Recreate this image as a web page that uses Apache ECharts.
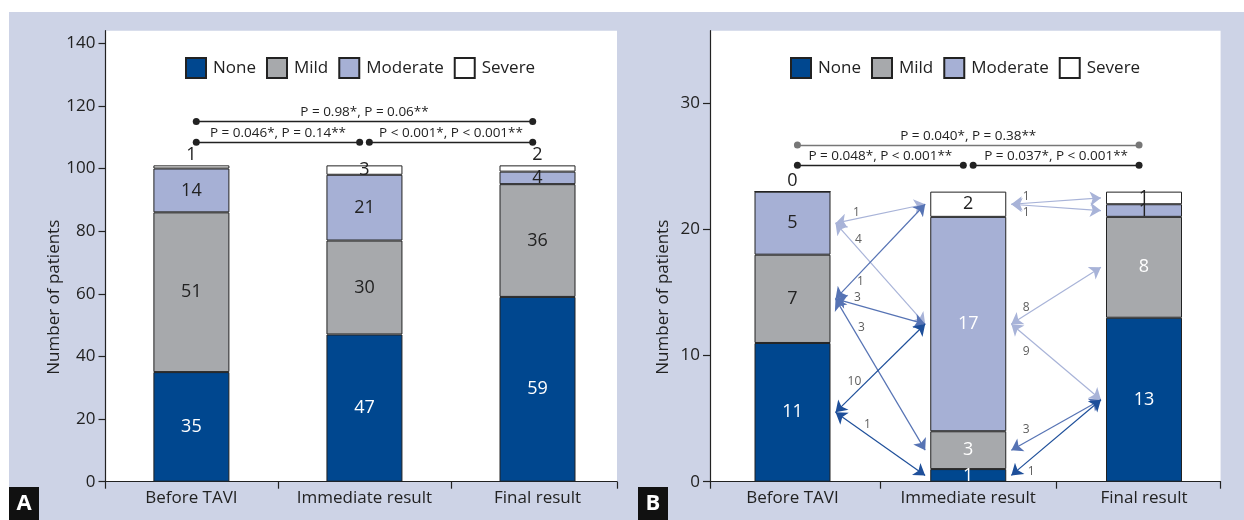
<!DOCTYPE html>
<html><head><meta charset="utf-8">
<script src="https://cdn.jsdelivr.net/npm/echarts@6/dist/echarts.min.js"></script>
<style>
html,body{margin:0;padding:0;background:#fff;}
#bg{position:absolute;left:9px;top:12px;width:1235px;height:508px;background:#CDD3E6;}
#chart{position:absolute;left:0;top:0;width:1244px;height:520px;}
</style></head><body>
<div id="bg"></div><div id="chart"></div>
<script>
// ---------- DATA ----------
const stages = ['Before TAVI', 'Immediate result', 'Final result'];
const severities = ['None', 'Mild', 'Moderate', 'Severe'];
const yTicksA = [0, 20, 40, 60, 80, 100, 120, 140];
const yTicksB = [0, 10, 20, 30];
// Panel A
const noneA = [35, 47, 59];
const mildA = [51, 30, 36];
const moderateA = [14, 21, 4];
const severeA = [1, 3, 2];
// Panel B
const noneB = [11, 1, 13];
const mildB = [7, 3, 8];
const moderateB = [5, 17, 1];
const severeB = [0, 2, 1];
// Panel B transitions: [fromStage, fromSeverity, toStage, toSeverity, count]
const transitionsB = [
  [0, 'Moderate', 1, 'Severe', 1],
  [0, 'Moderate', 1, 'Moderate', 4],
  [0, 'Mild', 1, 'Severe', 1],
  [0, 'Mild', 1, 'Moderate', 3],
  [0, 'Mild', 1, 'Mild', 3],
  [0, 'None', 1, 'Moderate', 10],
  [0, 'None', 1, 'None', 1],
  [1, 'Severe', 2, 'Severe', 1],
  [1, 'Severe', 2, 'Moderate', 1],
  [1, 'Moderate', 2, 'Mild', 8],
  [1, 'Moderate', 2, 'None', 9],
  [1, 'Mild', 2, 'None', 3],
  [1, 'None', 2, 'None', 1]
];
// P-value comparisons: [fromStage, toStage, level, text]
const pValuesA = [
  [0, 1, 0, 'P = 0.046*, P = 0.14**'],
  [1, 2, 0, 'P < 0.001*, P < 0.001**'],
  [0, 2, 1, 'P = 0.98*, P = 0.06**']
];
const pValuesB = [
  [0, 1, 0, 'P = 0.048*, P < 0.001**'],
  [1, 2, 0, 'P = 0.037*, P < 0.001**'],
  [0, 2, 1, 'P = 0.040*, P = 0.38**']
];
const bracketLevelsA = [108.4, 115];
const bracketLevelsB = [25.1, 26.7];

// ---------- STYLE ----------
const FONT = 'Open Sans';
const TXT = '#222';
const colors = { None: '#00478F', Mild: '#A7A9AC', Moderate: '#A6B0D5', Severe: '#FFFFFF' };
const arrowColors = { None: '#1E4F9A', Mild: '#5673B4', Moderate: '#A8B3D8', Severe: '#A8B3D8' };
const labelColorA = { None: ['#fff','#fff','#fff'], Mild: [TXT,TXT,TXT], Moderate: [TXT,TXT,TXT], Severe: [TXT,TXT,TXT] };
const labelColorB = { None: ['#fff','#fff','#fff'], Mild: [TXT,'#fff','#fff'], Moderate: [TXT,'#fff',TXT], Severe: [TXT,TXT,TXT] };
const severePosA = ['top', 'inside', 'top'];
const severePosB = ['top', 'inside', 'inside'];
// pixel offsets of the count labels from the point 20% along each arrow
const arrowLabelOffset = [[3,-7],[5,-4],[7,2],[4,-6],[8,-2],[1,-13],[14,0],
                          [-3,-6],[-3,7],[-3,-5],[-3,12],[-3,-11],[2,11]];
const arrowInset = 0.245;     // stage units from bar centre to arrow end
const bracketInset = 0.028;
const xRangeA = [0.5036, 3.459];
const xRangeB = [0.5306, 3.436];
const maxA = 144, maxB = 35.76;
const G = { top: 30.7, height: 451 };
// visible axis grids and bar (category band) grids
const axisGridA = { left: 105.5, width: 511.5 };
const axisGridB = { left: 710, width: 510.6 };
const barGridA = { left: 104.875, width: 519.15 };
const barGridB = { left: 704.625, width: 527.25 };

const dataA = { None: noneA, Mild: mildA, Moderate: moderateA, Severe: severeA };
const dataB = { None: noneB, Mild: mildB, Moderate: moderateB, Severe: severeB };

function xAxis(idx, range) {
  return {
    type: 'value', gridIndex: idx, min: range[0], max: range[1],
    axisLine: { show: true, lineStyle: { color: TXT, width: 1.2 } },
    axisTick: { show: true, length: 7, lineStyle: { color: TXT, width: 1.2 },
      customValues: [range[0], 1.5, 2.5, range[1]] },
    axisLabel: { customValues: [1, 2, 3], formatter: v => stages[Math.round(v) - 1],
      color: TXT, fontFamily: FONT, fontSize: 17, margin: 8 },
    splitLine: { show: false }
  };
}
function yAxis(idx, max, ticks) {
  return {
    type: 'value', gridIndex: idx, min: 0, max: max,
    name: 'Number of patients', nameLocation: 'middle', nameGap: 38,
    nameTextStyle: { color: TXT, fontFamily: FONT, fontSize: 17, padding: [0, 82, 0, 0] },
    axisLine: { show: true, lineStyle: { color: TXT, width: 1.2 } },
    axisTick: { show: true, length: 7, lineStyle: { color: TXT, width: 1.2 }, customValues: ticks },
    axisLabel: { customValues: ticks, color: TXT, fontFamily: FONT, fontSize: 17, margin: 10 },
    splitLine: { show: false }
  };
}
function hiddenCatX(idx) {
  return { type: 'category', gridIndex: idx, data: stages, show: false };
}
function hiddenY(idx, max) {
  return { type: 'value', gridIndex: idx, min: 0, max: max, show: false, splitLine: { show: false } };
}

const series = [];
function addBars(data, axisIdx, labelColor, severePos) {
  severities.forEach(sev => {
    series.push({
      type: 'bar', name: sev, stack: 'panel' + axisIdx, xAxisIndex: axisIdx, yAxisIndex: axisIdx,
      barWidth: 76,
      itemStyle: { color: colors[sev], borderColor: '#222', borderWidth: 1 },
      label: { show: true, position: 'inside', fontFamily: FONT, fontSize: 18 },
      data: data[sev].map((v, i) => ({
        value: v,
        label: { color: labelColor[sev][i],
          position: sev === 'Severe' ? severePos[i] : 'inside', distance: 1 }
      })),
      z: 2
    });
  });
}
addBars(dataA, 2, labelColorA, severePosA);
addBars(dataB, 3, labelColorB, severePosB);

function segMid(data, stage, sev) {
  let base = 0;
  for (const s of severities) {
    if (s === sev) return base + data[s][stage] / 2;
    base += data[s][stage];
  }
}

// transition arrows (panel B)
const arrowLines = [], arrowLabels = [];
transitionsB.forEach((t, k) => {
  const x1 = t[0] + 1 + arrowInset, y1 = segMid(dataB, t[0], t[1]);
  const x2 = t[2] + 1 - arrowInset, y2 = segMid(dataB, t[2], t[3]);
  arrowLines.push({ coords: [[x1, y1], [x2, y2]], lineStyle: { color: arrowColors[t[1]] } });
  const f = 0.2;
  arrowLabels.push({ value: [x1 + f * (x2 - x1), y1 + f * (y2 - y1), t[4]],
    label: { offset: arrowLabelOffset[k] } });
});
series.push({
  type: 'lines', coordinateSystem: 'cartesian2d', xAxisIndex: 1, yAxisIndex: 1,
  symbol: ['arrow', 'arrow'], symbolSize: 11, silent: true, z: 5,
  lineStyle: { width: 1.2, opacity: 1, curveness: 0 },
  data: arrowLines
});
series.push({
  type: 'scatter', xAxisIndex: 1, yAxisIndex: 1, symbolSize: 0, silent: true, z: 6,
  label: { show: true, position: 'inside', formatter: p => p.value[2],
    color: '#333', fontFamily: FONT, fontSize: 12 },
  data: arrowLabels
});

function addBrackets(pv, levels, idx, lineColors) {
  series.push({
    type: 'lines', coordinateSystem: 'cartesian2d', xAxisIndex: idx, yAxisIndex: idx,
    symbol: ['circle', 'circle'], symbolSize: 7, silent: true, z: 5,
    lineStyle: { width: 1.3, opacity: 1 },
    label: { show: true, position: 'middle', formatter: p => p.data.text,
      color: TXT, fontFamily: FONT, fontSize: 13.5, distance: 2 },
    data: pv.map(p => ({
      coords: [[p[0] + 1 + bracketInset, levels[p[2]]], [p[1] + 1 - bracketInset, levels[p[2]]]],
      text: p[3],
      lineStyle: { color: lineColors[p[2]] }
    }))
  });
}
addBrackets(pValuesA, bracketLevelsA, 0, ['#222', '#222']);
addBrackets(pValuesB, bracketLevelsB, 1, ['#222', '#777']);

function legend(left) {
  return {
    left: left, top: 57, padding: 0, orient: 'horizontal', data: severities, icon: 'rect',
    itemWidth: 20, itemHeight: 20, itemGap: 10, selectedMode: false,
    textStyle: { color: TXT, fontFamily: FONT, fontSize: 17, padding: [0, 0, 0, 2] }
  };
}

function panelTag(letter, x) {
  return { type: 'group', left: x, top: 487, children: [
    { type: 'rect', shape: { x: 0, y: 0, width: 30, height: 33 }, style: { fill: '#111' } },
    { type: 'text', x: 15, y: 17,
      style: { text: letter, fill: '#fff', font: 'bold 22px "' + FONT + '"', textAlign: 'center', textVerticalAlign: 'middle' } }
  ]};
}

const chart = echarts.init(document.getElementById('chart'), null, { renderer: 'canvas' });
chart.setOption({
  animation: false,
  backgroundColor: 'transparent',
  grid: [
    Object.assign({ show: true, backgroundColor: '#fff', borderWidth: 0 }, G, axisGridA),
    Object.assign({ show: true, backgroundColor: '#fff', borderWidth: 0 }, G, axisGridB),
    Object.assign({ show: false }, G, barGridA),
    Object.assign({ show: false }, G, barGridB)
  ],
  xAxis: [xAxis(0, xRangeA), xAxis(1, xRangeB), hiddenCatX(2), hiddenCatX(3)],
  yAxis: [yAxis(0, maxA, yTicksA), yAxis(1, maxB, yTicksB), hiddenY(2, maxA), hiddenY(3, maxB)],
  legend: [legend(185), legend(790)],
  graphic: [panelTag('A', 9), panelTag('B', 638)],
  series: series
});
</script>
</body></html>
